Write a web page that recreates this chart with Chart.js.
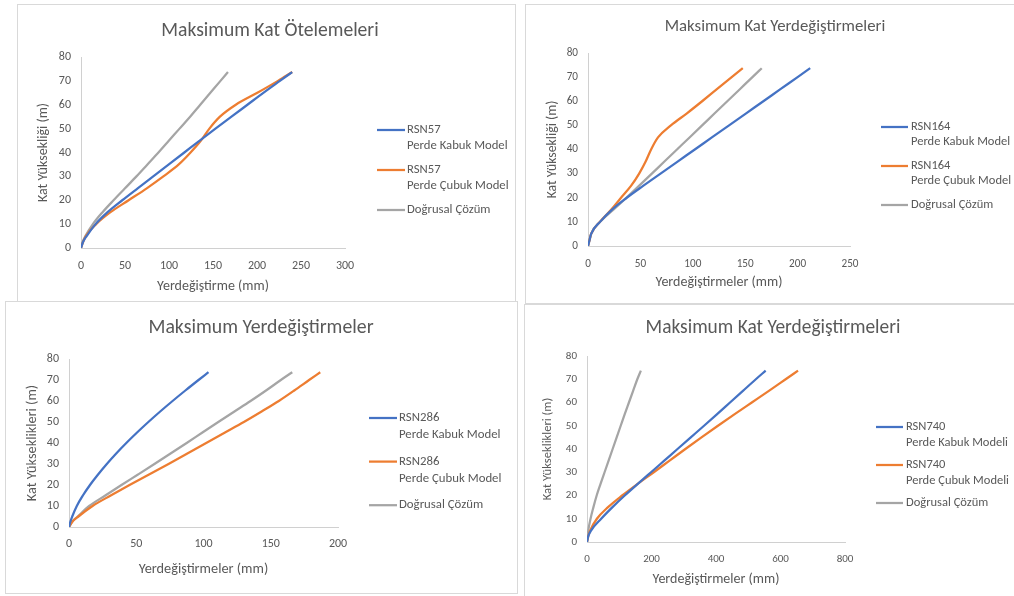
<!DOCTYPE html>
<html lang="tr">
<head>
<meta charset="utf-8">
<title>Maksimum Kat Yerdeğiştirmeleri</title>
<script src="https://cdn.jsdelivr.net/npm/chart.js@4.4.1/dist/chart.umd.min.js"></script>
<style>
  html, body { margin: 0; padding: 0; background: #fff; width: 1014px; height: 596px; overflow: hidden; position: relative; }
  .panel { position: absolute; box-sizing: border-box; border: 1px solid #d9d9d9; background: #fff; overflow: hidden; }
  .panel canvas { display: block; }
</style>
</head>
<body>
<div class="panel" style="left:17px;top:4px;width:499px;height:298px"><canvas id="chartA" width="497" height="296"></canvas></div>
<div class="panel" style="left:525px;top:4px;width:495px;height:300px"><canvas id="chartB" width="493" height="298"></canvas></div>
<div class="panel" style="left:5px;top:301px;width:513px;height:293px"><canvas id="chartC" width="511" height="291"></canvas></div>
<div class="panel" style="left:524px;top:304px;width:495px;height:294px"><canvas id="chartD" width="493" height="292"></canvas></div>

<script>
// Storey heights (m) shared by every series
const heights = [0, 2.5, 5, 10, 15, 20, 25, 30, 35, 40, 45, 50, 55, 60, 65, 70, 73.7];

// Displacements (mm) at each height
// RSN57 - Maksimum Kat Ötelemeleri
const rsn57Kabuk  = [0, 2.3, 6.4, 16.6, 30.2, 46.9, 64.4, 82.1, 99.8, 117.4, 134.9, 152.8, 171, 189.1, 207.2, 226, 240];
const rsn57Cubuk  = [0, 2.3, 5.5, 17.2, 33.5, 54.1, 74.7, 93.6, 111.1, 124.5, 136.3, 145.9, 157.9, 175.9, 200.4, 223.8, 240];
const rsn57Linear = [0, 1.8, 5.0, 13.5, 24.5, 37, 50, 63, 75.5, 88, 100, 112, 124, 135.5, 147, 158.5, 167];

// RSN164 - Maksimum Kat Yerdeğiştirmeleri
const rsn164Kabuk  = [0, 1.5, 3.0, 11.5, 22.7, 37, 52.9, 69.2, 85.5, 101.9, 118.2, 134.6, 150.9, 167.3, 183.6, 200, 212];
const rsn164Cubuk  = [0, 1.5, 3.0, 11.3, 22, 31.5, 41.2, 48.8, 55, 60.2, 66.8, 79.1, 94.4, 108.9, 123, 137.1, 147.7];
const rsn164Linear = [0, 1.5, 3.0, 11.5, 24, 36.6, 48.9, 60.9, 72.9, 84.9, 96.9, 108.9, 120.9, 132.9, 144.9, 156.9, 165.8];

// RSN286 - Maksimum Yerdeğiştirmeler
const rsn286Kabuk  = [0, 1.0, 2.4, 5.8, 10.3, 15.6, 21.6, 28.1, 35.1, 42.6, 50.6, 59, 67.8, 77, 86.5, 96.3, 103.7];
const rsn286Cubuk  = [0, 2.5, 7, 17.5, 31, 45, 59.5, 74, 88, 102, 116, 130, 143.2, 156, 167.5, 178.5, 186.8];
const rsn286Linear = [0, 2.3, 6.5, 15, 27, 39, 51.3, 63.5, 75.5, 87.5, 99.2, 111, 123, 135, 146.5, 157.5, 166];

// RSN740 - Maksimum Kat Yerdeğiştirmeleri
const rsn740Kabuk  = [0, 4, 13, 44, 79, 117, 157.5, 198.5, 239.6, 280.7, 321.8, 362.9, 403.5, 443.5, 483.5, 523.5, 554];
const rsn740Cubuk  = [0, 4, 10, 30.7, 65.3, 109, 157, 207, 256, 305, 355, 406, 458, 511, 564, 616, 654.4];
const rsn740Linear = [0, 2, 4, 11, 20, 30, 42, 54.5, 67, 79.5, 92, 104.5, 117, 130, 143, 156, 167];

const FONT = "Carlito, Calibri, Lato, sans-serif";
const TEXT = "#595959";
const AXIS = "#d0d0d0";
const BLUE = "#4472C4";
const ORANGE = "#ED7D31";
const GRAY = "#A5A5A5";

// Draws chart title and the two-line legend entries
const panelText = {
  id: "panelText",
  afterDraw(chart, args, o) {
    const ctx = chart.ctx;
    ctx.save();
    ctx.fillStyle = TEXT;
    ctx.textBaseline = "middle";
    ctx.textAlign = "center";
    ctx.font = o.titleSize + "px " + FONT;
    ctx.fillText(o.title, o.titleX, o.titleY);

    ctx.textAlign = "left";
    ctx.font = o.legendSize + "px " + FONT;
    chart.data.datasets.forEach((ds, i) => {
      const y = o.legendY + i * o.entryGap;
      ctx.strokeStyle = ds.borderColor;
      ctx.lineWidth = 2.25;
      ctx.beginPath();
      ctx.moveTo(o.lineX1, y);
      ctx.lineTo(o.lineX2, y);
      ctx.stroke();
      ds.label.split("\n").forEach((line, j) => {
        ctx.fillText(line, o.textX, y + j * o.lineGap);
      });
    });
    ctx.restore();
  }
};

function makeChart(id, cfg) {
  const datasets = cfg.series.map(s => ({
    label: s.label,
    data: heights.map((h, i) => ({ x: s.values[i], y: h })),
    borderColor: s.color,
    backgroundColor: s.color,
    borderWidth: 2.25,
    showLine: true,
    pointRadius: 0,
    cubicInterpolationMode: "monotone",
    fill: false
  }));

  return new Chart(document.getElementById(id), {
    type: "scatter",
    data: { datasets },
    options: {
      responsive: false,
      animation: false,
      layout: { padding: cfg.padding },
      plugins: {
        legend: { display: false },
        tooltip: { enabled: false },
        panelText: cfg.text
      },
      scales: {
        x: {
          type: "linear",
          min: 0,
          max: cfg.xMax,
          grid: { display: false, drawTicks: false },
          border: { color: AXIS },
          ticks: { stepSize: cfg.xStep, color: TEXT, font: { family: FONT, size: cfg.tickSize }, padding: cfg.xTickPad, maxRotation: 0 },
          title: { display: true, text: cfg.xTitle, color: TEXT, font: { family: FONT, size: cfg.xTitleSize }, padding: { top: 0, bottom: cfg.xTitlePad } },
          afterFit: s => { s.height = cfg.xHeight; }
        },
        y: {
          min: 0,
          max: 80,
          grid: { display: false, drawTicks: false },
          border: { color: AXIS },
          ticks: { stepSize: 10, color: TEXT, font: { family: FONT, size: cfg.tickSize }, padding: 10 },
          title: { display: true, text: cfg.yTitle, color: TEXT, font: { family: FONT, size: cfg.yTitleSize }, padding: { top: cfg.yTitlePad, bottom: 0 } },
          afterFit: s => { s.width = cfg.yWidth; }
        }
      }
    },
    plugins: [panelText]
  });
}

makeChart("chartA", {
  series: [
    { label: "RSN57\nPerde Kabuk Model", values: rsn57Kabuk, color: BLUE },
    { label: "RSN57\nPerde Çubuk Model", values: rsn57Cubuk, color: ORANGE },
    { label: "Doğrusal Çözüm", values: rsn57Linear, color: GRAY }
  ],
  xMax: 300, xStep: 50,
  xTitle: "Yerdeğiştirme (mm)", yTitle: "Kat Yüksekliği (m)",
  padding: { top: 52, right: 170, left: 0, bottom: 0 },
  yWidth: 63, xHeight: 53,
  tickSize: 12, xTitleSize: 14, yTitleSize: 14, xTickPad: 11,
  yTitlePad: 17, xTitlePad: 6,
  text: { title: "Maksimum Kat Ötelemeleri", titleSize: 19.6, titleX: 252, titleY: 26,
          legendSize: 12.7, lineX1: 359, lineX2: 387, textX: 389, legendY: 125, entryGap: 40, lineGap: 16 }
});

makeChart("chartB", {
  series: [
    { label: "RSN164\nPerde Kabuk Model", values: rsn164Kabuk, color: BLUE },
    { label: "RSN164\nPerde Çubuk Model", values: rsn164Cubuk, color: ORANGE },
    { label: "Doğrusal Çözüm", values: rsn164Linear, color: GRAY }
  ],
  xMax: 250, xStep: 50,
  xTitle: "Yerdeğiştirmeler (mm)", yTitle: "Kat Yüksekliği (m)",
  padding: { top: 48, right: 169, left: 0, bottom: 0 },
  yWidth: 62, xHeight: 57,
  tickSize: 11.2, xTitleSize: 14, yTitleSize: 13.8, xTickPad: 11.5,
  yTitlePad: 18, xTitlePad: 12,
  text: { title: "Maksimum Kat Yerdeğiştirmeleri", titleSize: 16.8, titleX: 249, titleY: 22,
          legendSize: 12.5, lineX1: 355, lineX2: 382, textX: 385, legendY: 122, entryGap: 39, lineGap: 15.3 }
});

makeChart("chartC", {
  series: [
    { label: "RSN286\nPerde Kabuk Model", values: rsn286Kabuk, color: BLUE },
    { label: "RSN286\nPerde Çubuk Model", values: rsn286Cubuk, color: ORANGE },
    { label: "Doğrusal Çözüm", values: rsn286Linear, color: GRAY }
  ],
  xMax: 200, xStep: 50,
  xTitle: "Yerdeğiştirmeler (mm)", yTitle: "Kat Yükseklikleri (m)",
  padding: { top: 57, right: 179, left: 0, bottom: 0 },
  yWidth: 63, xHeight: 66,
  tickSize: 12, xTitleSize: 14.3, yTitleSize: 14.3, xTickPad: 10,
  yTitlePad: 18, xTitlePad: 15,
  text: { title: "Maksimum Yerdeğiştirmeler", titleSize: 19.8, titleX: 255, titleY: 26.5,
          legendSize: 12.8, lineX1: 363, lineX2: 391, textX: 393, legendY: 116, entryGap: 43.6, lineGap: 17 }
});

makeChart("chartD", {
  series: [
    { label: "RSN740\nPerde Kabuk Modeli", values: rsn740Kabuk, color: BLUE },
    { label: "RSN740\nPerde Çubuk Modeli", values: rsn740Cubuk, color: ORANGE },
    { label: "Doğrusal Çözüm", values: rsn740Linear, color: GRAY }
  ],
  xMax: 800, xStep: 200,
  xTitle: "Yerdeğiştirmeler (mm)", yTitle: "Kat Yükseklikleri (m)",
  padding: { top: 51, right: 173, left: 0, bottom: 0 },
  yWidth: 62, xHeight: 55,
  tickSize: 11, xTitleSize: 14, yTitleSize: 12.6, xTickPad: 10.5,
  yTitlePad: 15, xTitlePad: 9,
  text: { title: "Maksimum Kat Yerdeğiştirmeleri", titleSize: 19.4, titleX: 248, titleY: 23.5,
          legendSize: 12.5, lineX1: 351, lineX2: 378, textX: 381, legendY: 122, entryGap: 38, lineGap: 15.5 }
});
</script>
</body>
</html>
